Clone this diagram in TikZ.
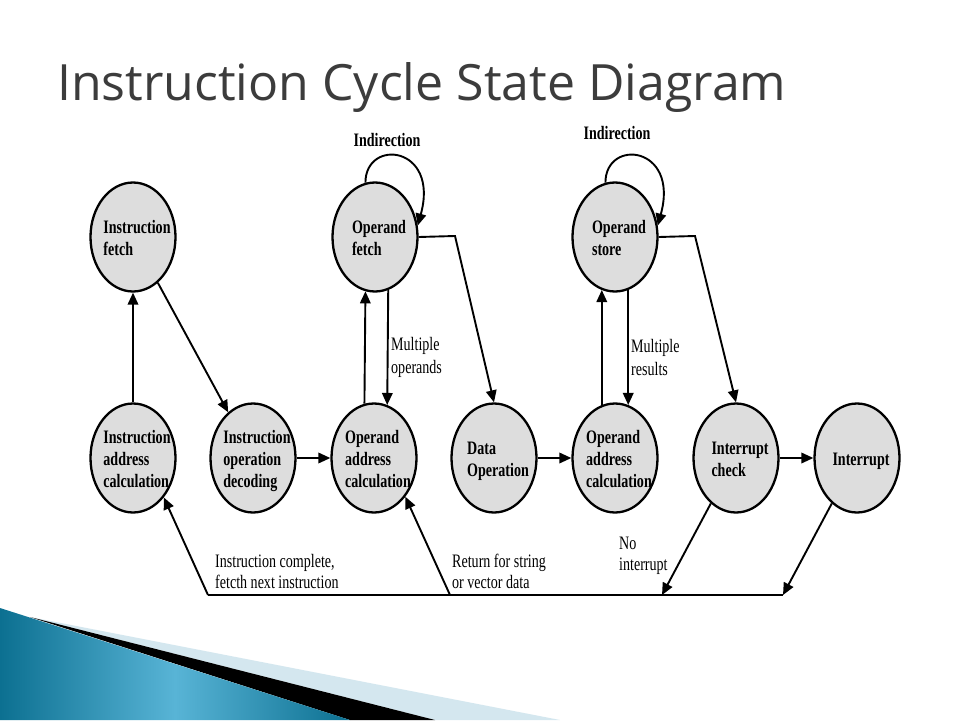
\documentclass[tikz,border=0pt]{standalone}
\usepackage{fontspec}
\usetikzlibrary{arrows.meta,shapes.geometric}
\newfontfamily\titlefont{Open Sans}
\newfontfamily\dfont[FakeStretch=0.74]{Liberation Serif}
\definecolor{stategray}{RGB}{221,221,221}
\definecolor{titlegray}{RGB}{60,60,60}
\definecolor{bluedark}{RGB}{12,112,145}
\definecolor{bluelight}{RGB}{88,180,214}
\definecolor{bandlight}{RGB}{212,231,239}
\begin{document}
\begin{tikzpicture}[x=1pt,y=-1pt,
  state/.style={ellipse, draw=black, line width=2.3pt, fill=stategray,
    minimum width=85pt, minimum height=109pt, inner sep=0pt},
  stext/.style={font=\dfont\bfseries\fontsize{19}{22}\selectfont, align=left,
    inner sep=0pt, xshift=4pt, yshift=-3pt},
  btext/.style={font=\dfont\bfseries\fontsize{19}{22}\selectfont, inner sep=0pt},
  lab/.style={font=\dfont\fontsize{19}{23}\selectfont, align=left, inner sep=0pt},
  labb/.style={font=\dfont\fontsize{19}{21}\selectfont, align=left, inner sep=0pt},
  conn/.style={line width=1.9pt},
  arr/.style={conn, -{Triangle[length=12pt,width=10.5pt]}},
]
\useasboundingbox (0,0) rectangle (960,720);
\fill[white] (0,0) rectangle (960,720);

% bottom decoration
\fill[bandlight] (30,617) -- (560,720) -- (435,720) -- cycle;
\fill[black] (30,617) -- (435,720) -- (350,720) -- cycle;
\shade[left color=bluedark, right color=bluedark, middle color=bluelight]
  (0,608) -- (350,720) -- (0,720) -- cycle;

% title
\node[anchor=base west, inner sep=0pt, text=titlegray,
  font=\titlefont\fontsize{50}{56}\selectfont] (title) at (57,100)
  {Instruction Cycle State Diagram};

% states
\node[state, label={[stext]center:{\strut Instruction\\fetch\strut}}] (if) at (133,237) {};
\node[state, label={[stext]center:{\strut Operand\\fetch\strut}}] (of) at (375,237) {};
\node[state, label={[stext]center:{\strut Operand\\store\strut}}] (os) at (615,237) {};
\node[state, label={[stext]center:{\strut Instruction\\address\\calculation\strut}}] (iac) at (133,458) {};
\node[state, label={[stext]center:{\strut Instruction\\operation\\decoding\strut}}] (iod) at (253,458) {};
\node[state, label={[stext]center:{\strut Operand\\address\\calculation\strut}}] (oac) at (374,458) {};
\node[state, label={[stext]center:{\strut Data\\Operation\strut}}] (do) at (494,458) {};
\node[state, label={[stext]center:{\strut Operand\\address\\calculation\strut}}] (oac2) at (615,458) {};
\node[state, label={[stext]center:{\strut Interrupt\\check\strut}}] (ic) at (736,458) {};
\node[state, label={[stext]center:{\strut Interrupt\strut}}] (int) at (857,458) {};

% labels
\node[btext] (ind1) at (387,140) {Indirection};
\node[btext] (ind2) at (617,133) {Indirection};
\node[lab, anchor=west] (mo) at (391,357) {Multiple\\operands};
\node[lab, anchor=west] (mr) at (631,357) {Multiple\\results};
\node[labb, anchor=west] (icl) at (215,571) {Instruction complete,\\fetcth next instruction};
\node[labb, anchor=west] (rs) at (452,571) {Return for string\\or vector data};
\node[labb, anchor=west] (ni) at (619,556) {No\\interrupt};

% coordinates
\coordinate (ofb) at (455,236);
\coordinate (osb) at (695,236);
\coordinate (bl) at (208,595);
\coordinate (bm) at (450,595);
\coordinate (bn) at (662,595);
\coordinate (br) at (783,595);

% connectors
\draw[arr] (iac) -- (if);
\draw[arr] (if) -- (iod);
\draw[arr] (iod) -- (oac);
\draw[arr] (oac.100) -- (of.260);
\draw[arr] (of.-76) -- (oac.76);
\draw[arr] (of.100) .. controls +(0,-45) and +(22,-80) .. (of.15);
\draw[arr] (of.east) -- (ofb) -- (do.north);
\draw[arr] (do) -- (oac2);
\draw[arr] (oac2.104) -- (os.256);
\draw[arr] (os.-76) -- (oac2.76);
\draw[arr] (os.100) .. controls +(0,-45) and +(22,-80) .. (os.15);
\draw[arr] (os.east) -- (osb) -- (ic.north);
\draw[arr] (ic) -- (int);
\draw[arr] (ic.241) -- (bn);
\draw[arr] (int.241) -- (br);
\draw[conn] (br) -- (bl);
\draw[arr] (bl) -- (iac.-52);
\draw[arr] (bm) -- (oac.-51);
\end{tikzpicture}
\end{document}
